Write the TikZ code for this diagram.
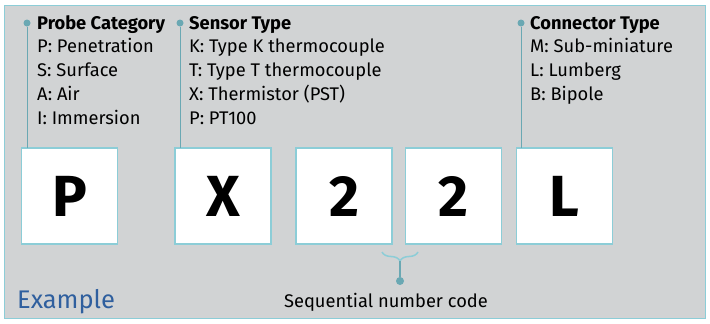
\documentclass[tikz,border=0pt]{standalone}
\usepackage{fontspec}
\setmainfont{Fira Sans}
\usetikzlibrary{positioning,decorations.pathreplacing}
\definecolor{framecyan}{HTML}{8CCDD7}
\definecolor{leadteal}{HTML}{6AA8B3}
\definecolor{panelgray}{HTML}{D1D3D4}
\definecolor{exblue}{HTML}{2F5F9E}
\tikzstyle{codebox} = [draw=framecyan, line width=1.5pt, fill=white, minimum size=96pt, inner sep=0pt, outer sep=0pt, font=\fontsize{58}{58}\selectfont\bfseries]
\tikzstyle{legend} = [anchor=base west, inner sep=0pt, font=\fontsize{18.3}{23.7}\selectfont]
\tikzstyle{lead} = [draw=leadteal, line width=1pt]
\tikzstyle{pindot} = [circle, fill=leadteal, inner sep=0pt, minimum size=7pt]
\newcommand{\legendlist}[1]{\begin{tabular}[t]{@{}l@{}}#1\end{tabular}}

\begin{document}
\begin{tikzpicture}[x=1pt,y=-1pt]
\useasboundingbox (0,0) rectangle (710,324);
\draw[framecyan, line width=1.5pt, fill=panelgray] (4.5,5.5) rectangle (705.5,318.5);

% code boxes
\node[codebox] (probe) at (69.5,196) {P};
\node[codebox, right=57.5pt of probe] (sensor) {X};
\node[codebox, right=25pt of sensor] (seqa) {2};
\node[codebox, right=13.5pt of seqa] (seqb) {2};
\node[codebox, right=15pt of seqb] (conn) {L};

% leaders
\coordinate (pc) at ([xshift=5.5pt]probe.north west);
\coordinate (sc) at ([xshift=5pt]sensor.north west);
\coordinate (cc) at ([xshift=4.5pt]conn.north west);
\node[pindot] (pdot) at (pc |- 0,23) {};
\node[pindot] (sdot) at (sc |- 0,23) {};
\node[pindot] (cdot) at (cc |- 0,23) {};
\draw[lead] (pdot) -- (pc);
\draw[lead] (sdot) -- (sc);
\draw[lead] (cdot) -- (cc);

\node[legend] (ptext) at ([xshift=10pt,yshift=-6.3pt]pdot.center) {\legendlist{\textbf{Probe Category}\\P: Penetration\\S: Surface\\A: Air\\I: Immersion}};
\node[legend] (stext) at ([xshift=9pt,yshift=-6.3pt]sdot.center) {\legendlist{\textbf{Sensor Type}\\K: Type K thermocouple\\T: Type T thermocouple\\X: Thermistor (PST)\\P: PT100}};
\node[legend] (ctext) at ([xshift=9pt,yshift=-6.3pt]cdot.center) {\legendlist{\textbf{Connector Type}\\M: Sub-miniature\\L: Lumberg\\B: Bipole}};

% sequential number brace
\coordinate (bl) at ([shift={(-10pt,-8pt)}]seqa.south east);
\coordinate (br) at ([shift={(12.5pt,-8pt)}]seqb.south west);
\draw[framecyan, line width=1.5pt, decorate, decoration={brace, mirror, amplitude=9pt}] (bl) -- (br) coordinate[pos=0.5] (bm);
\node[pindot, minimum size=8pt] (qdot) at ([yshift=-29pt]bm) {};
\draw[lead, line width=1.5pt] ([yshift=-9pt]bm) -- (qdot);
\node[font=\fontsize{18.3}{20}\selectfont, anchor=base] (qtext) at (386,307) {Sequential number code};

\node[font=\fontsize{25.5}{28}\selectfont, text=exblue, anchor=base west, inner sep=0pt] (example) at (17,308) {Example};
\end{tikzpicture}
\end{document}
